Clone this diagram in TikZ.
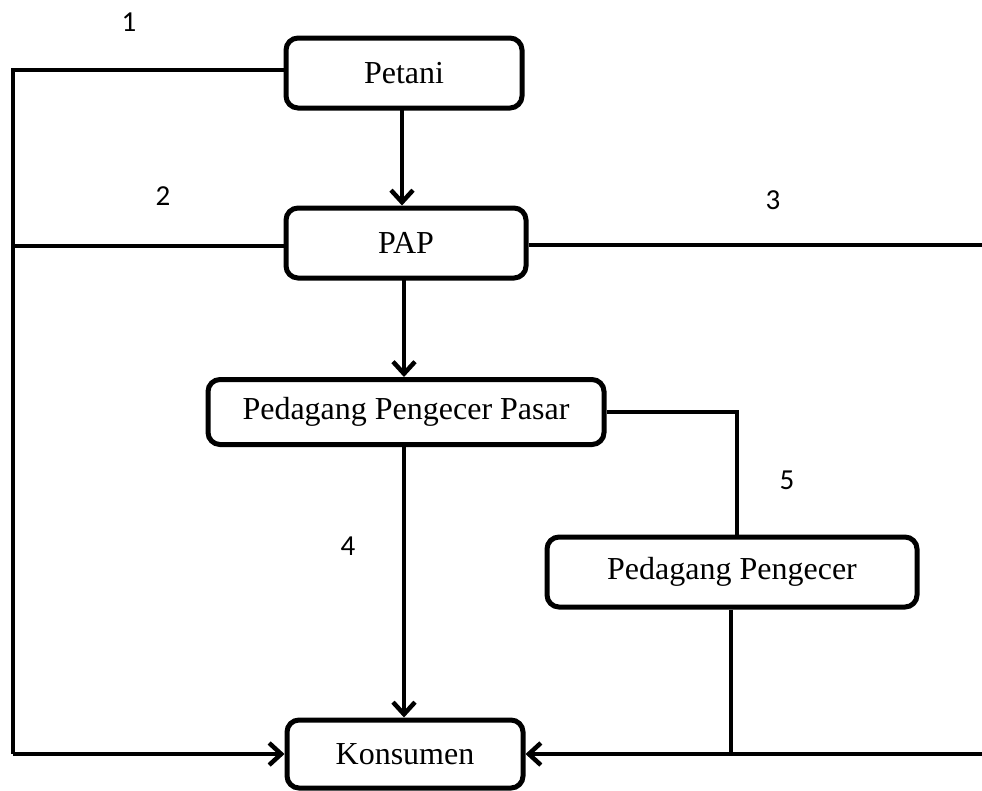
\documentclass[tikz,border=0pt]{standalone}
\usepackage{fontspec}
\setmainfont{Liberation Serif}
\newfontfamily\labfont{Carlito}
\usetikzlibrary{arrows.meta}
\begin{document}
\begin{tikzpicture}[x=1pt,y=-1pt,
  box/.style={draw,line width=5pt,rounded corners=12pt,inner sep=0pt,font=\fontsize{32}{38}\selectfont},
  ln/.style={line width=4.5pt},
  arr/.style={line width=4.5pt,-{Straight Barb[length=12pt,width=22pt]}},
  lab/.style={font=\labfont\fontsize{29}{34}\selectfont}]
\useasboundingbox (0,0) rectangle (982,790);
\node[box,minimum width=236pt,minimum height=70pt] (pet) at (404,73) {Petani};
\node[box,minimum width=240pt,minimum height=70pt] (pap) at (406,243) {PAP};
\node[box,minimum width=396pt,minimum height=65pt] (ppp) at (406,412) {Pedagang Pengecer Pasar};
\node[box,minimum width=370pt,minimum height=70pt] (pp) at (732,572) {Pedagang Pengecer};
\node[box,minimum width=236pt,minimum height=68pt] (kon) at (405,754) {Konsumen};
\coordinate (tl) at (13,70);
\coordinate (ml) at (13,246);
\coordinate (bl) at (13,754);
\coordinate (mr) at (982,245);
\coordinate (br) at (982,754);
\coordinate (pr) at (737,412);
\coordinate (pb) at (731,754);
\draw[ln] (pet.west|-tl) -- (tl) -- (bl);
\draw[arr] (bl) -- (kon.west|-bl);
\draw[ln] (pap.west|-ml) -- (ml);
\draw[ln] (pap.east|-mr) -- (mr);
\draw[arr] (br) -- (kon.east|-br);
\draw[arr] (402,108) -- (pap.north-|402,0);
\draw[arr] (404,278) -- (ppp.north-|404,0);
\draw[arr] (404,445) -- (kon.north-|404,0);
\draw[ln] (ppp.east|-pr) -- (pr) -- (pp.north-|pr);
\draw[ln] (pp.south-|pb) -- (pb);
\node[lab] (l1) at (129,22) {1};
\node[lab] (l2) at (163,196) {2};
\node[lab] (l3) at (773,200) {3};
\node[lab] (l4) at (348,546) {4};
\node[lab] (l5) at (787,480) {5};
\end{tikzpicture}
\end{document}
